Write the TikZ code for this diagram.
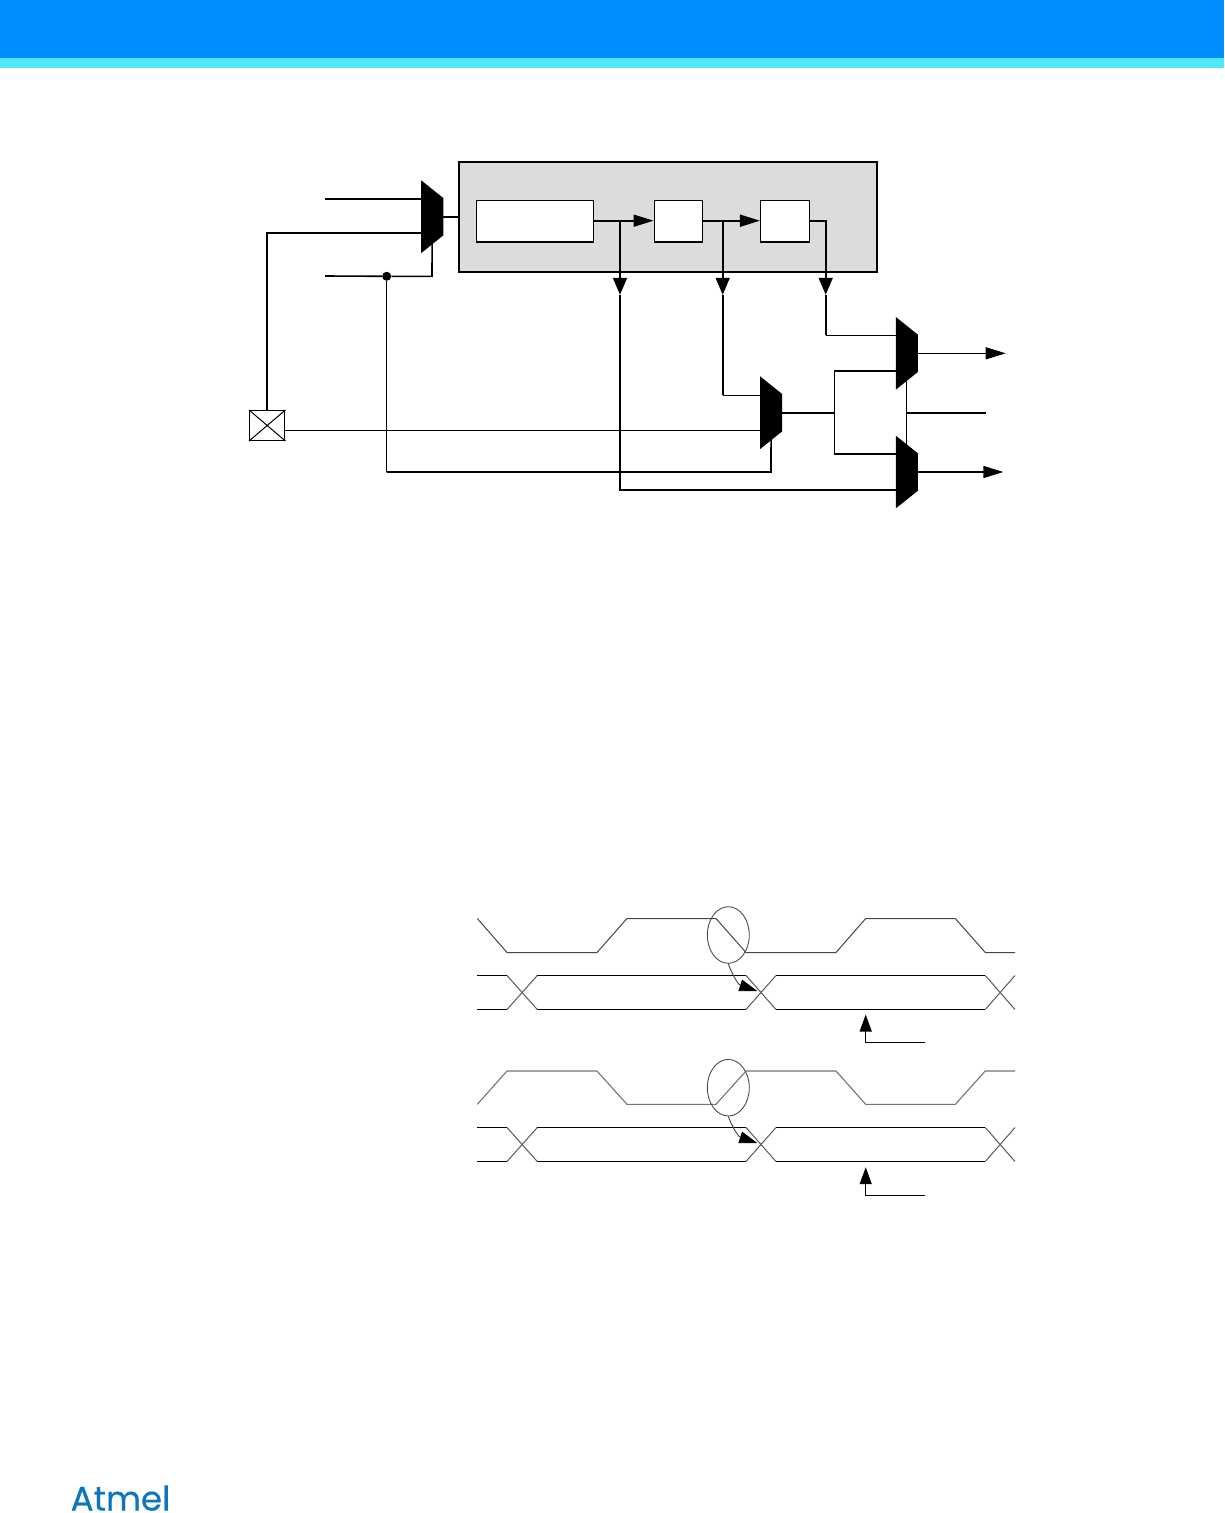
\documentclass[tikz,border=0pt]{standalone}
\usepackage{fontspec}
\newfontfamily\logofont[FakeBold=0.5]{Poppins}
\usetikzlibrary{arrows.meta,calc,shapes.geometric}
\definecolor{hdrblue}{HTML}{008FFF}
\definecolor{hdrcyan}{HTML}{50E6FF}
\definecolor{panelgrey}{HTML}{DCDCDC}
\definecolor{logoblue}{HTML}{0E76BC}
\tikzset{
  thickln/.style={line width=1.6pt,black},
  thinln/.style={line width=1pt,black},
  headv/.style={-{Triangle[length=17pt,width=14pt]}},
  headh/.style={-{Triangle[length=20pt,width=12pt]}},
  headhs/.style={-{Triangle[length=17pt,width=12pt]}},
  whitebox/.style={draw=black,line width=1.5pt,fill=white,inner sep=0pt},
  muxnode/.style={inner sep=0pt,minimum width=21.7pt,minimum height=72.4pt},
  wave/.style={line width=1pt,black!72},
  wavetwo/.style={line width=1.1pt,black!55},
  busflat/.style={line width=1pt,black},
  busslant/.style={line width=1pt,black!65},
  ringln/.style={draw=black!70,line width=0.9pt,inner sep=0pt,ellipse},
}
\newcommand{\muxat}[3]{%
  \node[muxnode] (#1) at (#2,#3) {};
  \fill[black] (#1.north west) -- ([yshift=-17.7pt]#1.north east) -- ([yshift=17.7pt]#1.south east) -- (#1.south west) -- cycle;
}
\newcommand{\busat}[1]{%
  \begin{scope}[yshift=#1]
    \draw[busslant] (507,975.5) -- (537.3,1009.5) (746,1009.5) -- (776,975.5) (985.3,975.5) -- (1015,1009.5);
    \draw[busslant] (507,1009.5) -- (537.3,975.5) (746,975.5) -- (776,1009.5) (985.3,1009.5) -- (1015,975.5);
    \draw[busflat] (477.3,975.5) -- (507,975.5) (537.3,975.5) -- (746,975.5) (776,975.5) -- (985.3,975.5);
    \draw[busflat] (477.3,1009.5) -- (507,1009.5) (537.3,1009.5) -- (746,1009.5) (776,1009.5) -- (985.3,1009.5);
  \end{scope}
}
\begin{document}
\begin{tikzpicture}[x=1pt,y=-1pt]
\useasboundingbox (0,0) rectangle (1224,1513);
% header
\fill[hdrblue] (0,0) rectangle (1224,58);
\fill[hdrcyan] (0,58) rectangle (1224,68);

% panel and boxes
\node[draw=black,line width=1.6pt,fill=panelgrey,inner sep=0pt,minimum width=418.3pt,minimum height=110.3pt] (panel) at (667.85,216.85) {};
\node[whitebox,minimum width=117pt,minimum height=41.7pt] (b1) at (534.8,221.15) {};
\node[whitebox,minimum width=48.4pt,minimum height=41.7pt] (b2) at (678.5,221.15) {};
\node[whitebox,minimum width=48.6pt,minimum height=41.7pt] (b3) at (785,221.15) {};

% muxes
\muxat{m1}{432.2}{216.7}
\muxat{m2}{771.1}{412.7}
\muxat{m3}{906.8}{353.3}
\muxat{m4}{906.8}{472}

% pad
\node[draw=black,line width=1.5pt,fill=white,inner sep=0pt,minimum width=35pt,minimum height=29.6pt] (pad) at (267.2,425.5) {};
\draw[line width=1pt] (pad.north west) -- (pad.south east) (pad.north east) -- (pad.south west);

% free ends and taps
\coordinate (in1) at (325,199);
\coordinate (in3) at (325,276);
\coordinate (tapa) at (620,220.7);
\coordinate (tapb) at (722.7,220.7);
\coordinate (hda) at (620,294.8);
\coordinate (hdb) at (722.7,294.8);
\coordinate (hdc) at (825.7,294.8);
\coordinate (jn) at (834.3,412.7);
\coordinate (sel) at (906.8,412.7);
\coordinate (outa) at (1005.7,353.3);
\coordinate (outb) at (1003.3,472);
\coordinate (outc) at (985.7,412.7);
\node[circle,fill=black,inner sep=0pt,minimum size=9pt] (dot) at (386.7,276.3) {};

% mux 1 connections
\draw[thickln] (in1) -- (in1 -| m1.west);
\draw[thickln] (pad.north) -- (267.2,232.7) -- (m1.west |- 0,232.7);
\draw[thickln] (in3) -- (dot) -- (432,276.3) -- (m1.center);
\draw[thickln] (m1.east) -- (m1.east -| panel.west);

% inside the panel
\draw[thickln,headh] (b1.east |- tapa) -- (b2.west |- tapa);
\draw[thickln,headh] (b2.east |- tapb) -- (b3.west |- tapb);
\draw[thickln,headv] (tapa) -- (hda);
\draw[thickln,headv] (tapb) -- (hdb);
\draw[thickln,headv] (b3.east |- 0,220.7) -- (825.7,220.7) -- (hdc);

% routed lines
\draw[thickln] (hda) -- (620,490) -- (m4.west |- 0,490);
\draw[thickln] (hdb) -- (722.7,395.3);
\draw[line width=1.2pt] (722.7,395.3) -- (m2.west |- 0,395.3);
\draw[thickln] (hdc) -- (825.7,335.3);
\draw[line width=1.2pt] (825.7,335.3) -- (m3.west |- 0,335.3);
\draw[thinln] (pad.east |- 0,430.5) -- (m2.west |- 0,430.5);
\draw[thinln] (dot) -- (386.7,472);
\draw[thickln] (386.7,472) -- (771,472) -- (m2.center);

% mux 2 to mux 3 and 4
\draw[thickln] (m2.east) -- (jn);
\draw[line width=1.2pt] (834.3,454) -- (834.3,370.7);
\draw[thickln] (834.3,370.7) -- (m3.west |- 0,370.7);
\draw[thickln] (834.3,454) -- (m4.west |- 0,454);
\draw[thinln] (m3.center) -- (sel) -- (m4.center);
\draw[thickln] (sel) -- (outc);
\draw[line width=1.2pt,headh] (m3.east) -- (outa);
\draw[thickln,headh] (m4.east) -- (outb);

% timing
\draw[wave,line join=round] (477.3,918.5) -- (507,952.5) -- (597,952.5) -- (627,918.5) -- (716,918.5) -- (746,952.5) -- (836,952.5) -- (865.7,918.5) -- (955.3,918.5) -- (985.3,952.5) -- (1015,952.5);
\draw[wavetwo,line join=round] (477.3,1104.3) -- (507,1071) -- (597,1071) -- (627,1104.3) -- (716,1104.3) -- (746,1071) -- (836,1071) -- (865.7,1104.3) -- (955.3,1104.3) -- (985.3,1071) -- (1015,1071);
\busat{0pt}
\busat{-152pt}

\node[ringln,minimum width=42pt,minimum height=56.6pt] (ra) at (728.3,935) {};
\node[ringln,minimum width=42pt,minimum height=56.6pt] (rb) at (728.3,1087.7) {};
\coordinate (tipa) at (757.3,991);
\coordinate (tipb) at (757.3,1143);
\draw[line width=0.9pt,black!75,-{Triangle[length=18pt,width=12pt,color=black]}] (ra.south) .. controls (733,977) and (739,985) .. (tipa);
\draw[line width=0.9pt,black!75,-{Triangle[length=18pt,width=12pt,color=black]}] (rb.south) .. controls (733,1129) and (739,1137) .. (tipb);

% small arrows
\coordinate (sa) at (925.3,1042.5);
\coordinate (sb) at (925.3,1195.5);
\coordinate (ta) at (865.7,1014.5);
\coordinate (tb) at (865.7,1167.2);
\draw[line width=1.2pt,headhs,line join=miter] (sa) -- (ta |- sa) -- (ta);
\draw[line width=1.2pt,headhs,line join=miter] (sb) -- (tb |- sb) -- (tb);

% logo
\node[anchor=base west,inner sep=0pt,text=logoblue,font=\logofont\fontsize{34}{34}\selectfont] (logo) at (70.5,1510.5) {Atmel};
\end{tikzpicture}
\end{document}
